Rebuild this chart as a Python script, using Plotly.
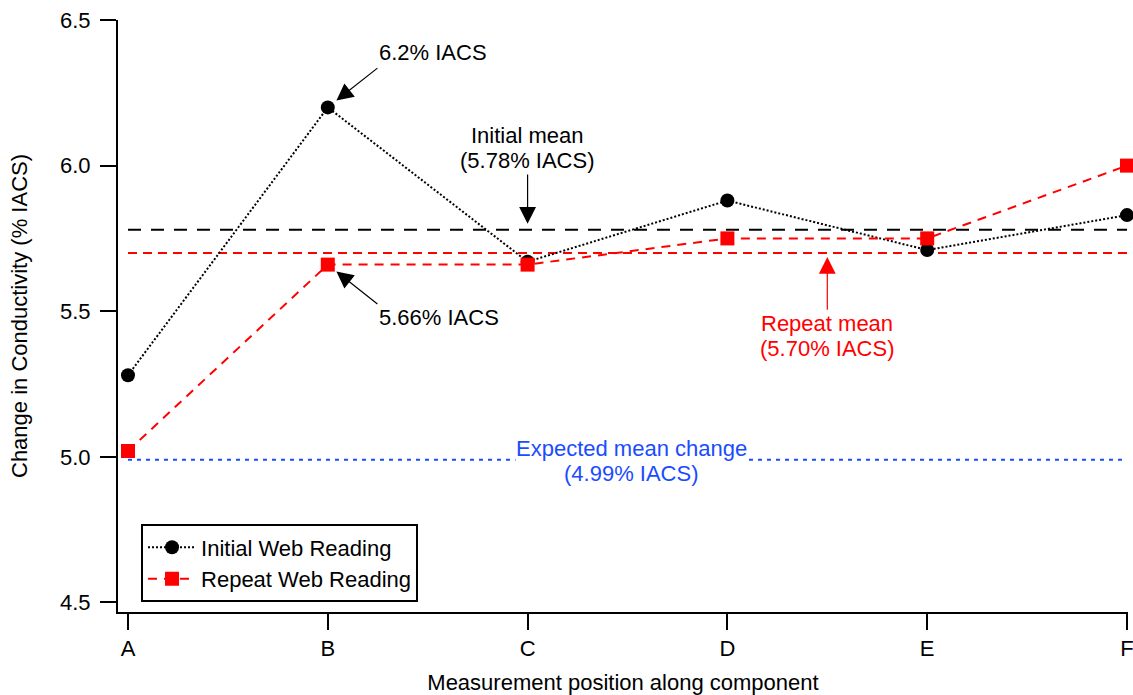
import plotly.graph_objects as go

positions = ["A", "B", "C", "D", "E", "F"]
initial_reading = [5.28, 6.20, 5.67, 5.88, 5.71, 5.83]
repeat_reading = [5.02, 5.66, 5.66, 5.75, 5.75, 6.00]
initial_mean = 5.78
repeat_mean = 5.70
expected_mean = 4.99
y_ticks = [4.5, 5.0, 5.5, 6.0, 6.5]

FONT = "Liberation Sans, Arial, sans-serif"
FS = 22
BLUE = "#1a4cff"
RED = "#ff0000"

xi = list(range(len(positions)))
ends = [xi[0], xi[-1]]

fig = go.Figure()
fig.add_trace(go.Scatter(x=ends, y=[expected_mean] * 2, mode="lines",
                         line=dict(color=BLUE, width=2, dash="4px,5px"),
                         showlegend=False, hoverinfo="skip"))
fig.add_trace(go.Scatter(x=ends, y=[initial_mean] * 2, mode="lines",
                         line=dict(color="black", width=2, dash="13px,10px"),
                         showlegend=False, hoverinfo="skip"))
fig.add_trace(go.Scatter(x=ends, y=[repeat_mean] * 2, mode="lines",
                         line=dict(color=RED, width=2, dash="9px,6px"),
                         showlegend=False, hoverinfo="skip"))
fig.add_trace(go.Scatter(x=xi, y=initial_reading, mode="lines+markers",
                         name="Initial Web Reading", cliponaxis=False,
                         line=dict(color="black", width=2, dash="2px,2px"),
                         marker=dict(symbol="circle", size=14, color="black")))
fig.add_trace(go.Scatter(x=xi, y=repeat_reading, mode="lines+markers",
                         name="Repeat Web Reading", cliponaxis=False,
                         line=dict(color=RED, width=2, dash="9px,7px"),
                         marker=dict(symbol="square", size=14, color=RED)))

def txt(x, y, s, color="black", xanchor="center", bg=None):
    fig.add_annotation(x=x, y=y, xref="x", yref="y", text=s, showarrow=False,
                       xanchor=xanchor, yanchor="middle",
                       font=dict(family=FONT, size=FS, color=color),
                       bgcolor=bg, borderpad=0)

def arrow(x, y, ax, ay, color="black", standoff=0):
    fig.add_annotation(x=x, y=y, ax=ax, ay=ay, xref="x", yref="y", axref="x", ayref="y",
                       text="", showarrow=True, arrowhead=2, arrowsize=2.8,
                       arrowwidth=1.2, arrowcolor=color, standoff=standoff)

txt(1.251, 6.387, "6.2% IACS", xanchor="left")
arrow(1, initial_reading[1], 1.256, 6.339, standoff=11)
txt(1.251, 5.480, "5.66% IACS", xanchor="left")
arrow(1, repeat_reading[1], 1.256, 5.521, standoff=11)
txt(2.0, 6.105, "Initial mean")
txt(2.0, 6.019, "(5.78% IACS)")
arrow(2.0, initial_mean, 2.0, 5.975, standoff=6)
txt(3.5, 5.459, "Repeat mean", color=RED)
txt(3.5, 5.373, "(5.70% IACS)", color=RED)
arrow(3.5, repeat_mean, 3.5, 5.50, color=RED, standoff=4)
txt(2.522, 5.027, "Expected mean change", color=BLUE, bg="white")
txt(2.522, 4.944, "(4.99% IACS)", color=BLUE)

fig.update_layout(
    width=1133, height=695,
    margin=dict(l=118, r=5, t=20, b=83, autoexpand=False),
    paper_bgcolor="white", plot_bgcolor="white",
    font=dict(family=FONT, size=FS, color="black"),
    legend=dict(x=0.0228, y=0.148, xanchor="left", yanchor="top",
                bgcolor="white", bordercolor="black", borderwidth=2,
                itemwidth=48,
                font=dict(family=FONT, size=FS)),
    xaxis=dict(range=[-0.05, 5.005], tickvals=xi, ticktext=positions,
               showline=True, linecolor="black", linewidth=2,
               ticks="outside", ticklen=16, tickwidth=2, tickcolor="black",
               ticklabeloverflow="allow",
               showgrid=False, zeroline=False, automargin=False,
               title=dict(text="Measurement position along component",
                          font=dict(family=FONT, size=FS), standoff=15)),
    yaxis=dict(range=[4.467, 6.5001], tickvals=y_ticks, tickformat=".1f",
               showline=True, linecolor="black", linewidth=2,
               ticks="outside", ticklen=16, tickwidth=2, tickcolor="black",
               ticklabelstandoff=5, ticklabeloverflow="allow",
               showgrid=False, zeroline=False, automargin=False,
               title=dict(text="Change in Conductivity (% IACS)",
                          font=dict(family=FONT, size=FS), standoff=26)),
)

# remove the browser's default 8px body margin so the figure fills the window exactly
fig.write_html(
    "out.html",
    config={"displayModeBar": False},
    post_script="document.body.style.margin='0';document.body.style.overflow='hidden';",
)
